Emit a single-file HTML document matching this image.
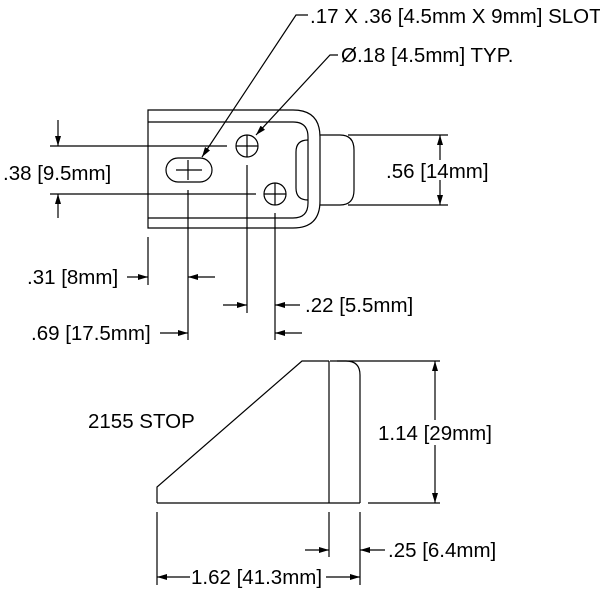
<!DOCTYPE html>
<html><head><style>body{margin:0;background:#fff}svg{display:block}text{font-family:"Liberation Sans",Arial,sans-serif;font-size:20.5px;fill:#000}</style></head><body>
<svg width="600" height="600" viewBox="0 0 600 600" xmlns="http://www.w3.org/2000/svg">
<defs><marker id="a" viewBox="0 0 10 6" refX="10" refY="3" markerWidth="10" markerHeight="6" orient="auto" markerUnits="userSpaceOnUse"><path d="M0,0L10,3L0,6z" fill="#000"/></marker></defs>
<g fill="none" stroke="#000" stroke-width="1.2">
<path d="M293,110H148V228H293"/>
<path d="M148,122H293M148,218H293"/>
<path d="M293,110Q320,110 320,137V201Q320,228 293,228"/>
<path d="M293,122Q308,122 308,137V203Q308,218 293,218"/>
<path d="M308,140Q296,140 296,152V188Q296,200 308,200"/>
<path d="M320,135H340Q354,135 354,150V190Q354,205 340,205H320"/>
<rect x="166" y="158" width="46" height="24" rx="12"/>
<path d="M176,170H202M188,160V180"/>
<circle cx="247" cy="146" r="11"/><path d="M236,146H258M247,135V157"/>
<circle cx="275" cy="194" r="11"/><path d="M264,194H286M275,183V205"/>
<path d="M50,146H227M50,194H256"/>
<path d="M58,120V146" marker-end="url(#a)"/><path d="M58,218V194" marker-end="url(#a)"/>
<path d="M348,135H448M348,205H448"/>
<path d="M440,160V135" marker-end="url(#a)"/><path d="M440,180V205" marker-end="url(#a)"/>
<path d="M148,237V285M188,190V340M247,165V313M275,213V340"/>
<path d="M127,277H148" marker-end="url(#a)"/><path d="M215,277H188" marker-end="url(#a)"/>
<path d="M223,305H247" marker-end="url(#a)"/><path d="M300,305H275" marker-end="url(#a)"/>
<path d="M160,333H188" marker-end="url(#a)"/><path d="M302,333H275" marker-end="url(#a)"/>
<path d="M308,15H296L202,157" marker-end="url(#a)"/>
<path d="M338,55H330L256,135" marker-end="url(#a)"/>
<path d="M157,503V487L302,361H329M157,503H360M329,361V503"/>
<path d="M330,361H346Q360,361 360,375V503"/>
<path d="M337,361H440M368,503H440"/>
<path d="M435,420V361" marker-end="url(#a)"/><path d="M435,445V503" marker-end="url(#a)"/>
<path d="M157,512V585M329,512V557M360,512V585"/>
<path d="M305,550H329" marker-end="url(#a)"/><path d="M385,550H360" marker-end="url(#a)"/>
<path d="M190,577H157" marker-end="url(#a)"/><path d="M326,577H360" marker-end="url(#a)"/>
</g>
<text x="310" y="23">.17 X .36 [4.5mm X 9mm] SLOT</text>
<text x="341" y="62">Ø.18 [4.5mm] TYP.</text>
<text x="3" y="180">.38 [9.5mm]</text>
<text x="386" y="178">.56 [14mm]</text>
<text x="27" y="284">.31 [8mm]</text>
<text x="305" y="312">.22 [5.5mm]</text>
<text x="31" y="340">.69 [17.5mm]</text>
<text x="88" y="428">2155 STOP</text>
<text x="378" y="440">1.14 [29mm]</text>
<text x="388" y="557">.25 [6.4mm]</text>
<text x="191" y="584">1.62 [41.3mm]</text>
</svg>
</body></html>
